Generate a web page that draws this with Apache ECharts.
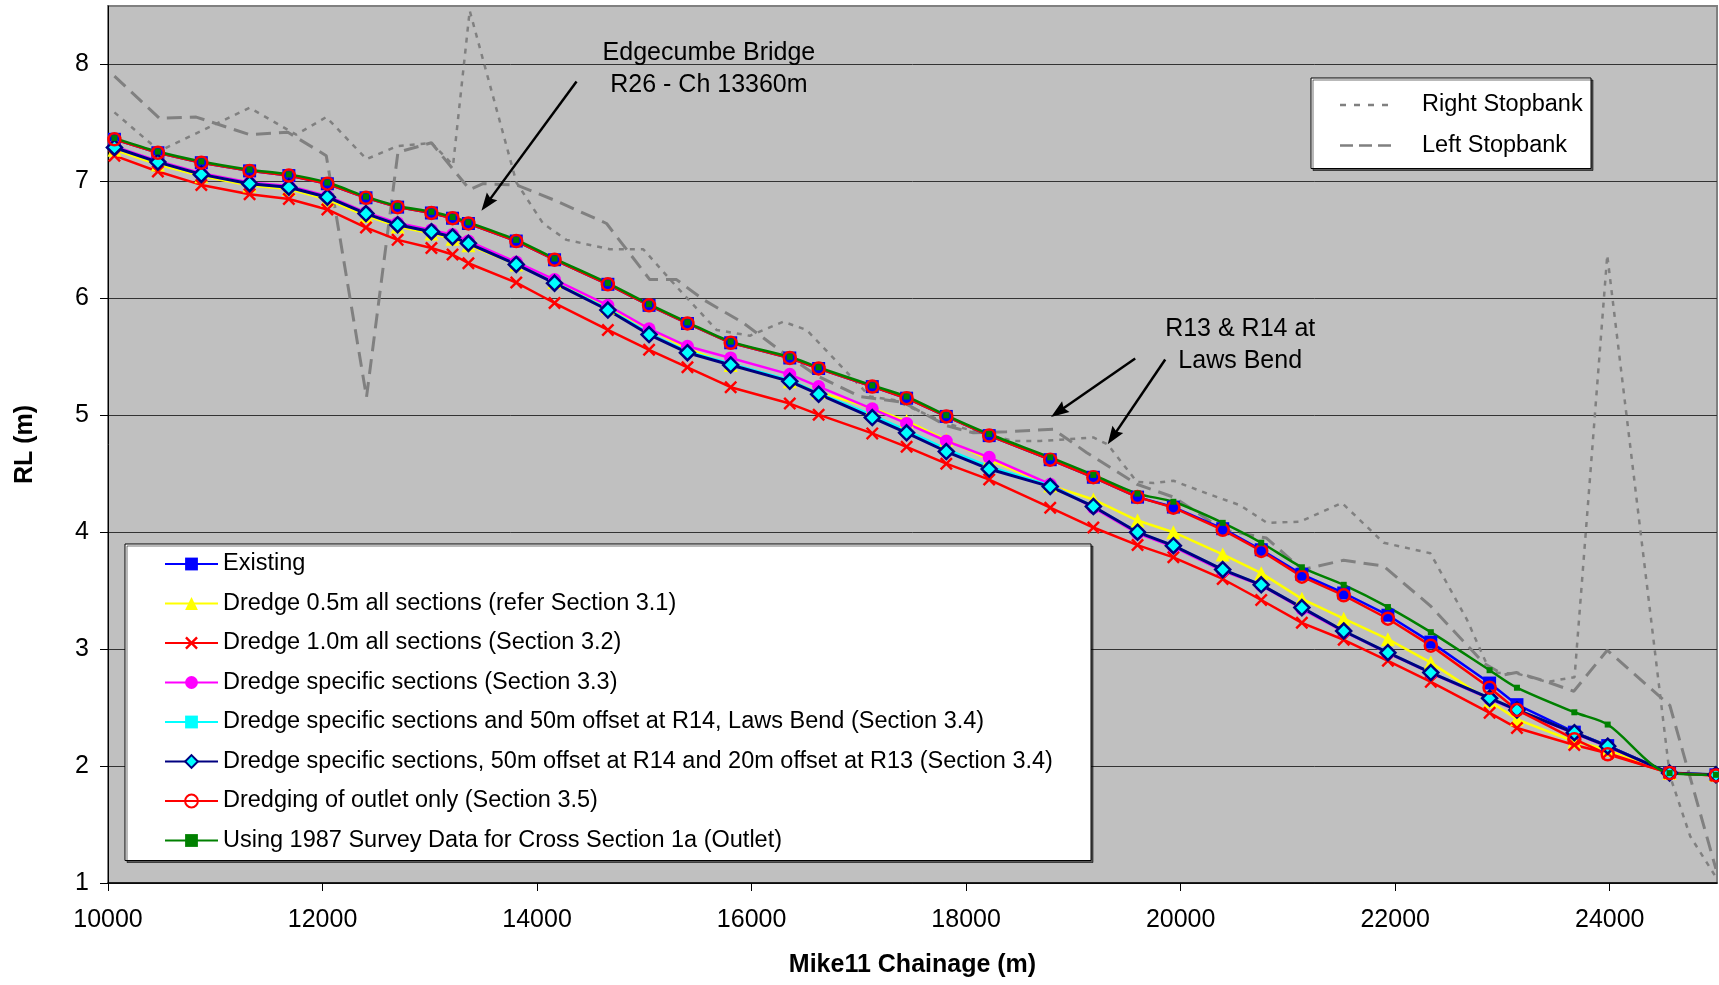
<!DOCTYPE html>
<html>
<head>
<meta charset="utf-8">
<script src="https://cdn.jsdelivr.net/npm/echarts@6/dist/echarts.min.js"></script>
<style>
  html, body { margin: 0; padding: 0; background: #ffffff; }
  #chart { width: 1719px; height: 985px; }
</style>
</head>
<body>
<div id="chart"></div>
<script>
// Cross-section chainages (m) shared by all water-level profiles
const chainage = [10060, 10465, 10870, 11320, 11686, 12045, 12405, 12700, 13015, 13212, 13360, 13806, 14163, 14660, 15044, 15402, 15805, 16356, 16625, 17125, 17445, 17815, 18215, 18784, 19186, 19598, 19932, 20392, 20751, 21130, 21520, 21932, 22332, 22880, 23135, 23670, 23981, 24558, 24990];

// Water levels RL (m) for each scenario
const existing = [7.36, 7.245, 7.16, 7.09, 7.05, 6.98, 6.86, 6.78, 6.73, 6.685, 6.64, 6.49, 6.33, 6.12, 5.94, 5.785, 5.62, 5.49, 5.40, 5.245, 5.146, 4.99, 4.826, 4.62, 4.47, 4.30, 4.215, 4.03, 3.85, 3.64, 3.48, 3.29, 3.06, 2.71, 2.525, 2.29, 2.175, 1.94, 1.925];
const dredge05 = [7.27, 7.145, 7.045, 6.965, 6.935, 6.845, 6.705, 6.615, 6.555, 6.51, 6.455, 6.29, 6.14, 5.92, 5.74, 5.57, 5.43, 5.29, 5.20, 5.06, 4.95, 4.79, 4.62, 4.40, 4.28, 4.10, 4.00, 3.81, 3.65, 3.43, 3.26, 3.085, 2.885, 2.555, 2.40, 2.21, 2.14, 1.94, 1.925];
const dredge10 = [7.22, 7.085, 6.97, 6.89, 6.85, 6.76, 6.605, 6.50, 6.43, 6.375, 6.30, 6.135, 5.96, 5.73, 5.56, 5.41, 5.24, 5.10, 5.005, 4.845, 4.73, 4.586, 4.45, 4.21, 4.04, 3.89, 3.785, 3.60, 3.42, 3.225, 3.08, 2.90, 2.72, 2.455, 2.325, 2.18, 2.11, 1.94, 1.92];
const dredgeSpecific = [7.30, 7.175, 7.07, 6.99, 6.96, 6.875, 6.735, 6.645, 6.585, 6.545, 6.49, 6.31, 6.16, 5.94, 5.74, 5.59, 5.49, 5.35, 5.245, 5.055, 4.93, 4.78, 4.64, 4.41, 4.21, 3.99, 3.875, 3.67, 3.545, 3.345, 3.15, 2.965, 2.795, 2.575, 2.475, 2.28, 2.165, 1.94, 1.925];
const offsetR14 = [7.29, 7.165, 7.06, 6.98, 6.95, 6.865, 6.725, 6.63, 6.57, 6.525, 6.47, 6.29, 6.135, 5.91, 5.70, 5.545, 5.44, 5.30, 5.19, 5.00, 4.87, 4.71, 4.56, 4.40, 4.22, 4.00, 3.885, 3.68, 3.55, 3.355, 3.155, 2.97, 2.80, 2.58, 2.48, 2.285, 2.17, 1.94, 1.925];
const offsetR14R13 = [7.29, 7.165, 7.06, 6.98, 6.95, 6.865, 6.725, 6.63, 6.57, 6.525, 6.47, 6.29, 6.13, 5.90, 5.69, 5.535, 5.43, 5.29, 5.18, 4.98, 4.85, 4.69, 4.54, 4.39, 4.22, 4.00, 3.885, 3.68, 3.55, 3.355, 3.155, 2.97, 2.80, 2.58, 2.48, 2.285, 2.17, 1.94, 1.925];
const outletOnly = [7.36, 7.245, 7.16, 7.09, 7.05, 6.98, 6.86, 6.78, 6.73, 6.685, 6.64, 6.49, 6.33, 6.12, 5.94, 5.785, 5.62, 5.49, 5.40, 5.245, 5.146, 4.99, 4.826, 4.62, 4.47, 4.30, 4.21, 4.02, 3.84, 3.62, 3.46, 3.26, 3.03, 2.67, 2.48, 2.23, 2.10, 1.94, 1.92];
const survey1987 = [7.37, 7.255, 7.17, 7.10, 7.06, 6.99, 6.87, 6.79, 6.74, 6.695, 6.65, 6.50, 6.34, 6.13, 5.95, 5.795, 5.63, 5.50, 5.41, 5.255, 5.16, 5.00, 4.84, 4.64, 4.49, 4.33, 4.26, 4.08, 3.91, 3.70, 3.55, 3.36, 3.145, 2.82, 2.67, 2.46, 2.355, 1.94, 1.925];

// Stopbank crest levels
const rightBankCh = [10060, 10480, 11320, 11755, 12035, 12410, 12690, 13015, 13217, 13372, 13808, 14056, 14274, 14679, 14990, 15300, 15673, 15984, 16295, 16513, 16917, 17104, 17330, 17819, 18130, 18440, 18690, 19186, 19320, 19592, 19750, 19933, 20250, 20555, 20804, 21115, 21504, 21892, 22328, 22670, 22888, 23140, 23416, 23672, 23977, 24560, 24750, 24990];
const rightBankRL = [7.59, 7.26, 7.63, 7.40, 7.55, 7.19, 7.30, 7.33, 7.14, 8.46, 6.99, 6.64, 6.50, 6.42, 6.42, 6.10, 5.73, 5.68, 5.80, 5.73, 5.34, 5.16, 5.13, 4.93, 4.85, 4.78, 4.78, 4.81, 4.75, 4.43, 4.42, 4.44, 4.33, 4.23, 4.08, 4.09, 4.25, 3.91, 3.82, 3.25, 2.80, 2.79, 2.72, 2.76, 6.37, 1.92, 1.40, 1.05];
const leftBankCh = [10060, 10480, 10822, 11320, 11677, 12035, 12410, 12703, 13015, 13372, 13496, 13808, 14160, 14648, 15051, 15300, 15549, 15922, 16295, 16606, 17010, 17414, 17819, 18067, 18379, 18814, 19125, 19592, 19933, 20400, 20800, 21131, 21519, 21892, 22328, 22826, 23012, 23130, 23385, 23665, 23977, 24560, 24990];
const leftBankRL = [7.90, 7.54, 7.55, 7.40, 7.42, 7.22, 5.155, 7.25, 7.33, 6.93, 6.98, 6.97, 6.84, 6.64, 6.16, 6.16, 5.99, 5.79, 5.535, 5.34, 5.16, 5.11, 4.91, 4.85, 4.86, 4.88, 4.68, 4.41, 4.30, 4.02, 3.95, 3.68, 3.76, 3.71, 3.37, 2.88, 2.78, 2.80, 2.73, 2.64, 2.99, 2.52, 1.12];

// Axis ticks
const xTicks = [10000, 12000, 14000, 16000, 18000, 20000, 22000, 24000];
const yTicks = [1, 2, 3, 4, 5, 6, 7, 8];

// Callouts: [chainage, RL] anchors
const bridgeText = ['Edgecumbe Bridge', 'R26 - Ch 13360m'];
const bridgeTextAt = [15602, 7.96];
const bridgeArrow = [[14368, 7.855], [13531, 6.81]];
const bendText = ['R13 & R14 at', 'Laws Bend'];
const bendTextAt = [20555, 5.596];
const bendArrows = [[[19576, 5.486], [18860, 5.03]], [[19856, 5.477], [19367, 4.815]]];

const FONT = '"Liberation Sans", Arial, sans-serif';
const LEGEND_FONT = 23.5;
const crossPath = 'path://M0,1.6L1.6,0L6,4.4L10.4,0L12,1.6L7.6,6L12,10.4L10.4,12L6,7.6L1.6,12L0,10.4L4.4,6Z';
const arrowHead = 'path://M5,0L10,14L5,12L0,14Z';

function pairs(xs, ys) { return xs.map((x, i) => [x, ys[i]]); }

function measure(text, size) {
  const ctx = document.createElement('canvas').getContext('2d');
  ctx.font = size + 'px ' + FONT;
  return ctx.measureText(text).width;
}

const names = {
  existing: 'Existing',
  d05: 'Dredge 0.5m all sections (refer Section 3.1)',
  d10: 'Dredge 1.0m all sections (Section 3.2)',
  spec: 'Dredge specific sections (Section 3.3)',
  r14: 'Dredge specific sections and 50m offset at R14, Laws Bend (Section 3.4)',
  r14r13: 'Dredge specific sections, 50m offset at R14 and 20m offset at R13 (Section 3.4)',
  outlet: 'Dredging of outlet only (Section 3.5)',
  s1987: 'Using 1987 Survey Data for Cross Section 1a (Outlet)',
  right: 'Right Stopbank',
  left: 'Left Stopbank'
};

const mainNames = [names.existing, names.d05, names.d10, names.spec, names.r14, names.r14r13, names.outlet, names.s1987];
const longest = Math.max(...mainNames.map(n => measure(n, LEGEND_FONT)));
const bankTextW = Math.max(measure(names.right, LEGEND_FONT), measure(names.left, LEGEND_FONT));

function profile(name, ys, opts) {
  return Object.assign({
    name: name,
    type: 'line',
    data: pairs(chainage, ys),
    symbolSize: 13,
    showSymbol: true,
    clip: true,
    emphasis: { disabled: true }
  }, opts);
}

function arrow(from, to) {
  return [{ coord: from, symbol: 'none' }, { coord: to, symbol: arrowHead, symbolSize: [13, 18] }];
}

const rightIcon = 'path://M0,0h0.01v0.01h-0.01z M77,10h-0.01v-0.01h0.01z M0,3.8h6v2.4h-6z M14,3.8h6v2.4h-6z M28,3.8h6v2.4h-6z M42,3.8h6v2.4h-6z';
const leftIcon = 'path://M0,0h0.01v0.01h-0.01z M77,10h-0.01v-0.01h0.01z M0,3.8h13v2.4h-13z M19,3.8h13v2.4h-13z M38,3.8h13v2.4h-13z';

const tickText = v => String(v);

const option = {
  animation: false,
  backgroundColor: '#ffffff',
  textStyle: { fontFamily: FONT },
  grid: {
    left: 108, right: 2, top: 6, bottom: 102,
    show: true, backgroundColor: '#C0C0C0', borderColor: '#808080', borderWidth: 2
  },
  xAxis: {
    type: 'value', min: 10000, max: 25000, interval: 2000,
    name: 'Mike11 Chainage (m)', nameLocation: 'middle', nameGap: 70,
    nameTextStyle: { fontFamily: FONT, fontSize: 25, fontWeight: 'bold', color: '#000' },
    axisLine: { show: true, onZero: false, lineStyle: { color: '#000', width: 1.5 } },
    axisTick: { show: true, length: 8, lineStyle: { color: '#000', width: 1 }, customValues: xTicks },
    axisLabel: { fontFamily: FONT, fontSize: 25, color: '#000', margin: 25, customValues: xTicks, formatter: tickText },
    splitLine: { show: false }
  },
  yAxis: {
    type: 'value', min: 1, max: 8.5, interval: 1,
    name: 'RL (m)', nameLocation: 'middle', nameGap: 70,
    nameTextStyle: { fontFamily: FONT, fontSize: 25, fontWeight: 'bold', color: '#000' },
    axisLine: { show: true, onZero: false, lineStyle: { color: '#000', width: 1 } },
    axisTick: { show: true, length: 8, lineStyle: { color: '#000', width: 1 }, customValues: yTicks },
    axisLabel: { fontFamily: FONT, fontSize: 25, color: '#000', margin: 19, customValues: yTicks, formatter: tickText },
    splitLine: { show: true, lineStyle: { color: '#333333', width: 1 } }
  },
  legend: [
    {
      data: mainNames,
      orient: 'vertical', left: 125, top: 544,
      itemWidth: 53, itemHeight: 16, itemGap: 15.5,
      padding: [8, Math.max(4, 965 - 39 - 53 - 5 - longest), 8, 39],
      backgroundColor: '#ffffff', borderColor: '#000000', borderWidth: 1,
      shadowColor: 'rgba(0,0,0,0.55)', shadowOffsetX: 2, shadowOffsetY: 2, shadowBlur: 0,
      textStyle: { fontFamily: FONT, fontSize: LEGEND_FONT, color: '#000' },
      selectedMode: false
    },
    {
      data: [{ name: names.right, icon: rightIcon }, { name: names.left, icon: leftIcon }],
      orient: 'vertical', left: 1311, top: 78,
      itemWidth: 77, itemHeight: 10, itemGap: 16.5,
      padding: [15, Math.max(4, 280 - 29 - 82 - bankTextW), 11, 29],
      backgroundColor: '#ffffff', borderColor: '#000000', borderWidth: 1,
      shadowColor: 'rgba(0,0,0,0.55)', shadowOffsetX: 2, shadowOffsetY: 2, shadowBlur: 0,
      textStyle: { fontFamily: FONT, fontSize: LEGEND_FONT, color: '#000' },
      selectedMode: false
    }
  ],
  series: [
    {
      name: names.right, type: 'line', data: pairs(rightBankCh, rightBankRL),
      symbol: 'none', itemStyle: { color: '#808080' },
      lineStyle: { color: '#808080', width: 2.5, type: [5, 6] },
      emphasis: { disabled: true }, z: 1
    },
    {
      name: names.left, type: 'line', data: pairs(leftBankCh, leftBankRL),
      symbol: 'none', itemStyle: { color: '#808080' },
      lineStyle: { color: '#808080', width: 3, type: [15, 8] },
      emphasis: { disabled: true }, z: 1,
      markLine: {
        silent: true, animation: false,
        symbol: ['none', arrowHead], symbolSize: [13, 18],
        label: { show: false },
        lineStyle: { color: '#000', width: 2.5, type: 'solid' },
        itemStyle: { color: '#000' },
        data: [
          arrow(bridgeArrow[0], bridgeArrow[1]),
          arrow(bendArrows[0][0], bendArrows[0][1]),
          arrow(bendArrows[1][0], bendArrows[1][1])
        ]
      },
      markPoint: {
        silent: true, animation: false,
        symbol: 'circle', symbolSize: 1,
        itemStyle: { color: 'rgba(0,0,0,0)' },
        label: { show: true, position: 'inside', color: '#000', fontFamily: FONT, fontSize: 25, lineHeight: 32, align: 'center' },
        data: [
          { coord: bridgeTextAt, label: { formatter: bridgeText.join('\n') } },
          { coord: bendTextAt, label: { formatter: bendText.join('\n') } }
        ]
      }
    },
    profile(names.existing, existing, {
      symbol: 'rect', symbolSize: 13,
      itemStyle: { color: '#0000FF' }, lineStyle: { color: '#0000FF', width: 2.5 }, z: 2
    }),
    profile(names.d05, dredge05, {
      symbol: 'triangle', symbolSize: 14,
      itemStyle: { color: '#FFFF00' }, lineStyle: { color: '#FFFF00', width: 2.5 }, z: 2
    }),
    profile(names.d10, dredge10, {
      symbol: crossPath, symbolSize: 13,
      itemStyle: { color: '#FF0000' }, lineStyle: { color: '#FF0000', width: 2.5 }, z: 2
    }),
    profile(names.spec, dredgeSpecific, {
      symbol: 'circle', symbolSize: 13,
      itemStyle: { color: '#FF00FF' }, lineStyle: { color: '#FF00FF', width: 2.5 }, z: 2
    }),
    profile(names.r14, offsetR14, {
      symbol: 'rect', symbolSize: 8,
      itemStyle: { color: '#00FFFF' }, lineStyle: { color: '#00FFFF', width: 2.5 }, z: 2
    }),
    profile(names.r14r13, offsetR14R13, {
      symbol: 'diamond', symbolSize: 15,
      itemStyle: { color: '#00FFFF', borderColor: '#000080', borderWidth: 2.5 },
      lineStyle: { color: '#000080', width: 3 }, z: 2
    }),
    profile(names.outlet, outletOnly, {
      symbol: 'circle', symbolSize: 12,
      itemStyle: { color: 'rgba(255,0,0,0)', borderColor: '#FF0000', borderWidth: 2.5 },
      lineStyle: { color: '#FF0000', width: 2.5 }, z: 2
    }),
    profile(names.s1987, survey1987, {
      symbol: 'rect', symbolSize: 6, smooth: 0.3,
      itemStyle: { color: '#008000' }, lineStyle: { color: '#008000', width: 2.5 }, z: 2
    })
  ]
};

const chart = echarts.init(document.getElementById('chart'), null, { renderer: 'canvas' });
chart.setOption(option);
</script>
</body>
</html>
